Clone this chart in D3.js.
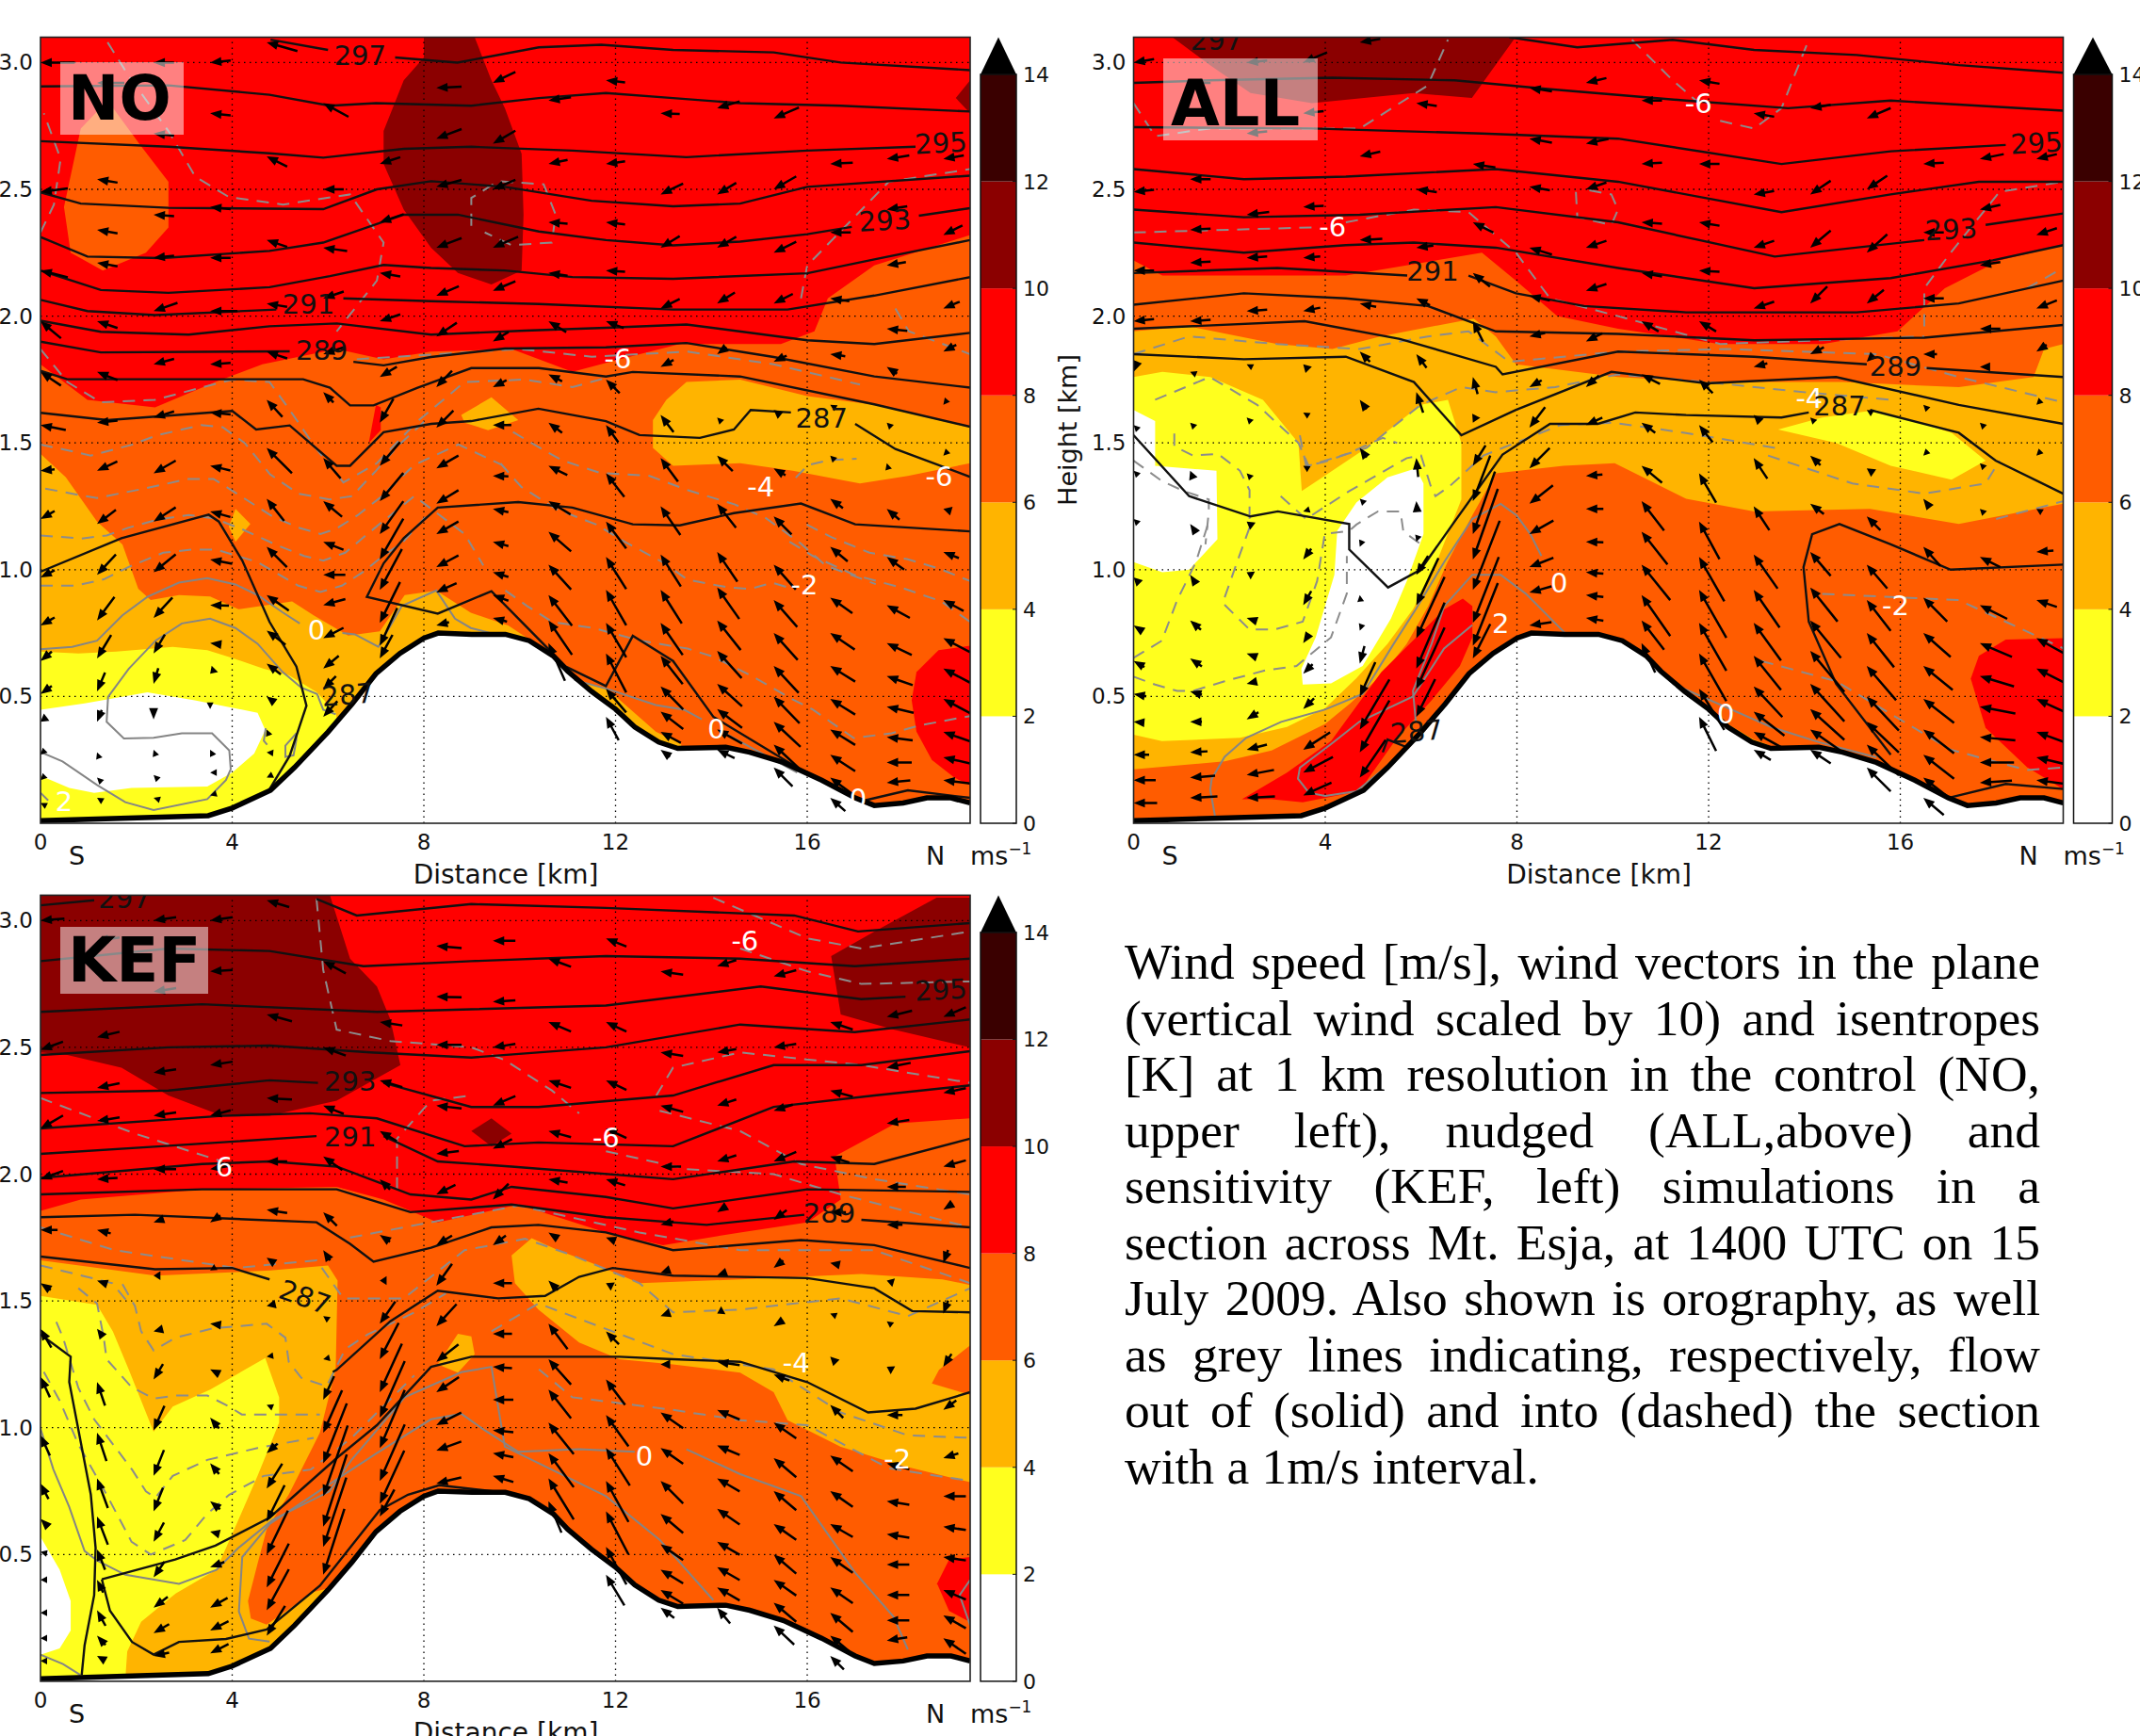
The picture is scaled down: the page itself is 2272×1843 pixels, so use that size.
<!DOCTYPE html>
<html><head><meta charset="utf-8">
<script src="https://cdn.jsdelivr.net/npm/d3@7"></script>
<style>html,body{margin:0;padding:0;background:#fff}svg{display:block}</style></head><body>
<svg id="c" width="2272" height="1843"></svg>
<script>
// ---- common values
const xTicks=[0,4,8,12,16];
const yTicks=[0.5,1,1.5,2,2.5,3];
const cbTicks=[0,2,4,6,8,10,12,14];
const levelColors=['#ffffff','#ffff1e','#ffb400','#ff5c00','#ff0000','#8b0000','#3a0000'];
const terrain=[[0,.01],[3.5,.03],[4,.06],[4.8,.13],[5.3,.22],[6,.36],[6.5,.47],[7,.59],[7.5,.67],[8,.73],[8.3,.75],[9,.745],[9.7,.745],[10.2,.72],[10.7,.66],[11,.6],[11.5,.52],[12,.45],[12.4,.38],[12.9,.32],[13.3,.295],[14.3,.3],[14.8,.28],[15.5,.24],[16.3,.17],[17,.1],[17.4,.07],[18,.08],[18.5,.1],[19,.1],[19.4,.08]];
const caption=["Wind speed [m/s], wind vectors in the plane","(vertical wind scaled by 10) and isentropes","[K] at 1 km resolution in the control (NO,","upper left), nudged (ALL,above) and","sensitivity (KEF, left) simulations in a","section across Mt. Esja, at 1400 UTC on 15","July 2009. Also shown is orography, as well","as grey lines indicating, respectively, flow","out of (solid) and into (dashed) the section","with a 1m/s interval."];
const arrowCols=[0,1.18,2.36,3.54,4.72,5.9,7.08,8.26,9.44,10.6,11.8,12.94,14.12,15.3,16.48,17.66,18.84];
const arrowLevels=[
[3.0,2.49,2.18,1.98,1.78,1.57,1.39,1.2,.97,.78,.64,.51,.4,.27,.17,.08],
[2.92,2.54,2.34,2.21,1.98,1.78,1.58,1.39,1.18,.98,.8,.65,.52,.4,.28,.18,.1],
[3.0,2.72,2.4,2.23,2.02,1.81,1.6,1.38,1.19,.99,.81,.67,.55,.41,.29,.19,.1],
[3.0,2.8,2.43,2.23,2.02,1.81,1.62,1.41,1.23,1.04,.86,.71,.59,.45,.29,.2,.11],
[3.08,2.63,2.3,2.05,1.86,1.67,1.48,1.28,1.09,.9,.76,.63,.5,.37,.28,.18],
[2.84,2.5,2.27,2.07,1.85,1.7,1.44,1.27,1.11,.98,.86,.73,.61,.53,.42],
[2.6,2.37,2.17,1.98,1.76,1.58,1.41,1.27,1.14,1.04,.92,.79,.7,.65],
[2.9,2.7,2.51,2.27,2.08,1.92,1.72,1.56,1.4,1.26,1.14,1.01,.91,.78],
[2.92,2.68,2.5,2.27,2.1,1.9,1.72,1.57,1.37,1.24,1.11,.99,.9,.81],
[2.85,2.6,2.37,2.17,1.98,1.77,1.58,1.41,1.27,1.15,1.02,.9,.8,.71],
[2.93,2.6,2.37,2.18,1.98,1.75,1.57,1.38,1.19,1.05,.92,.79,.67,.53,.42],
[2.8,2.48,2.27,2.03,1.8,1.61,1.44,1.25,1.06,.92,.79,.66,.54,.44,.36,.29],
[2.82,2.48,2.27,2.05,1.85,1.6,1.45,1.26,1.07,.93,.8,.68,.55,.45,.37,.29],
[2.78,2.5,2.25,2.05,1.82,1.63,1.4,1.21,1.02,.88,.75,.62,.5,.4,.31,.22],
[2.6,2.33,2.07,1.85,1.65,1.45,1.28,1.09,.89,.75,.62,.49,.37,.27,.18,.1],
[2.62,2.42,2.2,1.95,1.8,1.58,1.42,1.24,1.05,.86,.71,.58,.46,.34,.24,.16],
[2.62,2.32,2.03,1.86,1.65,1.45,1.24,1.07,.88,.73,.61,.49,.36,.26,.17]];

// ---- NO panel
const noFills=[
[4,[[0,0],[19.4,0],[19.4,3.1],[0,3.1]]],
[3,[[0,1.81],[.98,1.67],[2.39,1.64],[3.65,1.74],[4.63,1.81],[6.18,1.87],[7.16,1.83],[8.15,1.86],[9.83,1.87],[11.1,1.78],[12.08,1.83],[13.34,1.89],[15.45,1.89],[16.15,1.94],[16.43,2.07],[17.4,2.2],[19.4,2.32],[19.4,0],[0,0]]],
[3,[[.49,2.43],[.84,2.74],[1.4,2.85],[2.1,2.67],[2.67,2.53],[2.67,2.35],[2.2,2.25],[1.3,2.18],[.63,2.25]]],
[4,[[6.85,1.5],[7.0,1.65],[7.1,1.64],[7.1,1.55]]],
[5,[[8,3.1],[9.06,3.1],[9.41,2.93],[9.69,2.82],[10.04,2.64],[10.08,2.4],[10.04,2.18],[9.41,2.125],[8.71,2.17],[8.15,2.27],[7.58,2.42],[7.16,2.6],[7.16,2.73],[7.58,2.93],[8,3.02]]],
[5,[[19.4,2.93],[19.1,2.86],[19.4,2.8]]],
[2,[[0,1.457],[.53,1.364],[1.18,1.19],[1.71,1.1],[2.04,.925],[2.3,.88],[2.89,.9],[3.54,.894],[4.13,.844],[5.25,.875],[5.7,.82],[6.42,.74],[7.08,.757],[7.6,.9],[8.26,.918],[8.98,.83],[9.76,.78],[10.4,.7],[10.4,.2],[0,0]]],
[2,[[11.14,.565],[11.8,.534],[12.32,.448],[12.84,.361],[13.37,.312],[13.37,.2],[11.14,.3]]],
[2,[[13.48,1.74],[14.6,1.75],[16,1.685],[17.4,1.65],[19.4,1.56],[19.4,1.42],[18.1,1.37],[17.1,1.34],[15.7,1.39],[14.6,1.42],[13.2,1.41],[12.78,1.48],[12.78,1.59],[13.06,1.67]]],
[2,[[8.78,1.61],[9.41,1.68],[9.97,1.59],[9.34,1.55],[8.85,1.58]]],
[2,[[3.93,1.17],[4.07,1.24],[4.38,1.18],[4.07,1.11]]],
[4,[[19.4,.7],[18.74,.683],[18.28,.596],[18.18,.485],[18.28,.361],[18.6,.25],[19.07,.18],[19.4,.15]]],
[1,[[0,.677],[.79,.67],[1.58,.677],[2.76,.696],[3.48,.683],[4,.652],[4.66,.609],[5.18,.584],[5.77,.516],[6.16,.436],[6.3,.3],[6,0],[0,0]]],
[0,[[0,.448],[.92,.473],[2.23,.516],[3.22,.485],[4.53,.436],[4.69,.368],[4.46,.275],[4,.2],[3.48,.145],[1.9,.139],[1.12,.12],[.6,.139],[0,.188]]]];
const noIsentropes=[
[[4.8,3.09],[6.0,3.05]],
[[7.4,3.02],[8.7,3.0],[10.4,3.06],[11.7,3.07],[13.2,3.05],[15.3,3.04],[16.7,3.0],[19.4,2.97]],
[[0,2.906],[2.67,2.91],[4.78,2.873],[6.04,2.83],[7.0,2.84],[8.99,2.83],[10.4,2.86],[11.8,2.88],[13.2,2.86],[14.6,2.84],[16.7,2.83],[19.4,2.807]],
[[0,2.69],[2.67,2.668],[4.78,2.642],[5.9,2.625],[7.58,2.66],[8.99,2.668],[11.1,2.653],[13.48,2.627],[16,2.653],[18.26,2.668]],
[[0,2.488],[.84,2.444],[2.67,2.427],[5.9,2.422],[7.02,2.5],[8.15,2.532],[9.69,2.51],[11.5,2.455],[13.2,2.433],[14.6,2.444],[16,2.51],[19.4,2.554]],
[[0,2.312],[.98,2.235],[2.53,2.229],[4.78,2.257],[5.9,2.29],[7.58,2.4],[8.71,2.4],[10.4,2.334],[11.8,2.3],[13.2,2.279],[14.6,2.294],[16,2.323],[16.93,2.352]],
[[18.33,2.396],[19.4,2.426]],
[[0,2.18],[1.26,2.103],[2.67,2.092],[4.78,2.114],[6.04,2.158],[7.16,2.202],[8.15,2.19],[9.69,2.18],[11.1,2.154],[13.2,2.147],[16,2.169],[17.4,2.224],[19.4,2.3]],
[[0,2.064],[.98,2.02],[2.39,2.004],[4.92,2.026]],
[[6.32,2.07],[8.15,2.059],[10.4,2.048],[13.2,2.026],[15.59,2.026],[17.4,2.081],[19.4,2.154]],
[[0,1.982],[1.26,1.938],[3.09,1.927],[4.78,1.96],[6.18,1.971],[8.15,1.927],[10.11,1.943],[11.8,1.954],[13.48,1.967],[16,1.905],[17.4,1.89],[19.4,1.934]],
[[0,1.899],[1.26,1.857],[5.2,1.861]],
[[6.53,1.82],[7.16,1.806],[8.15,1.839],[9.69,1.872],[11.8,1.877],[13.48,1.894],[15.3,1.839],[17.4,1.762],[19.4,1.718]],
[[0,1.784],[.56,1.751],[4.0,1.751],[5.48,1.751],[6.04,1.718],[6.46,1.648],[6.95,1.648],[7.87,1.718],[8.99,1.795],[10.4,1.795],[11.8,1.762],[12.36,1.78],[14.6,1.762],[17.4,1.652],[19.4,1.564]],
[[0,1.619],[1.4,1.59],[4,1.626],[4.5,1.553],[5.2,1.569],[6.18,1.41],[6.46,1.41],[7.16,1.542],[8.15,1.575],[8.99,1.586],[10.39,1.635],[11.8,1.586],[12.5,1.531],[13.76,1.52],[14.47,1.553],[14.82,1.63],[15.66,1.62]],
[[17,1.575],[17.84,1.476],[19.4,1.366]],
[[0,.992],[1.69,1.124],[3.51,1.217],[3.72,1.19],[4.21,1.036],[4.78,.794],[5.34,.618],[5.55,.464],[5.2,.266],[4.78,.134]],
[[19.4,1.151],[17,1.179],[15.87,1.261],[14.47,1.223],[13.34,1.175],[12.36,1.179],[11.1,1.245],[9.97,1.267],[8.29,1.245],[7.58,1.124],[7.16,1.025],[6.81,.893],[8.29,.827],[9.41,.915],[10.96,.618],[11.8,.541],[12.36,.739],[13.2,.64],[14.04,.42],[15.87,.211]],
[[17.2,.09],[18.1,.13],[19.4,.1]]];
const noOutflow=[
[[0,.686],[.66,.696],[1.18,.72],[1.71,.82],[2.23,.893],[2.89,.949],[3.48,.967],[4.07,.942],[4.53,.9],[5.05,.832],[5.41,.788]],
[[6.3,.75],[6.56,.745],[7.05,.696],[7.54,.857],[8.26,.918],[8.65,.807],[8.98,.77],[9.4,.75]],
[[6.16,.43],[5.9,.448],[5.77,.51],[5.44,.535],[5.05,.597],[4.53,.708],[4.07,.77],[3.54,.807],[2.95,.788],[2.4,.72],[1.84,.609],[1.41,.498],[1.38,.4],[1.74,.334],[2.36,.337],[2.95,.355],[3.58,.355],[3.94,.287],[3.97,.213],[3.87,.17],[3.48,.095],[2.36,.052],[1.77,.083],[1.18,.151],[.46,.244],[0,.281]],
[[5.34,.355],[5.11,.306],[5.11,.262],[5.28,.268],[5.34,.33],[5.34,.355]],
[[4.7,.375],[4.66,.325],[4.73,.31]],
[[11.14,.565],[11.86,.528],[12.84,.466],[13.43,.448],[13.8,.41]],
[[14.28,.355],[14.81,.3],[15.79,.2]],
[[0,.12],[.16,.09]]];
const noInflow=[
[[0,.937],[.73,.937],[1.32,.962],[1.84,1.011],[2.56,1.067],[3.15,1.079],[3.67,1.079],[4.53,1.03],[5.38,.937],[5.84,.912],[6.29,.937],[6.75,.993],[7.14,1.054],[7.54,1.104],[8.13,1.228]],
[[0,1.135],[.86,1.123],[1.38,1.135],[1.84,1.166],[2.43,1.197],[3.09,1.216],[3.61,1.203],[4.2,1.16],[4.92,1.098],[5.5,1.054],[5.9,1.036],[6.36,1.067],[6.75,1.129],[7.14,1.19],[7.8,1.29],[8.85,1.141],[9.24,1.017]],
[[.1,1.32],[.79,1.295],[1.18,1.283],[2.17,1.32],[3.09,1.358],[3.61,1.358],[4.13,1.296],[4.85,1.209],[5.38,1.166],[5.84,1.141],[6.16,1.16],[6.62,1.215],[7.08,1.283],[7.8,1.413],[8.72,1.494],[9.63,1.413]],
[[0,1.493],[.47,1.475],[1.05,1.45],[1.91,1.493],[2.43,1.53],[3.35,1.57],[3.8,1.562],[4.26,1.5],[4.79,1.376],[5.38,1.3],[6.03,1.277],[6.5,1.29],[7.0,1.39],[7.47,1.49],[8.1,1.6]],
[[9.86,1.543],[10.36,1.487],[10.88,1.432],[11.67,1.382],[12.71,1.37],[13.5,1.314],[14.48,1.258],[15.14,1.203],[15.86,1.104],[16.38,1.017],[17.43,.943]],
[[9.6,1.419],[10.03,1.327],[10.75,1.24],[11.6,1.178],[12.19,1.11],[12.98,1.03],[13.5,.961],[14.35,.93],[14.81,.924],[15.27,.949],[15.7,.924]],
[[9.7,.918],[10.16,.856],[10.68,.794],[11.53,.77],[12.52,.72],[13.5,.689],[14.02,.658],[14.81,.584],[15.73,.485],[16.12,.448],[16.97,.336],[17.76,.355],[18.35,.386],[19.4,.423]],
[[15.99,1.178],[16.51,1.128],[17.3,1.067],[18.08,1.042],[18.74,1.005],[19.4,.955]],
[[15.63,1.11],[16.12,1.054],[16.97,.98],[17.95,.93],[18.8,.875],[19.4,.794]],
[[15.76,1.363],[16.02,1.413],[16.45,1.432],[17.03,1.438]],
[[1.4,3.08],[1.83,2.95],[2.67,2.73],[3.23,2.55],[3.93,2.47],[5.06,2.44],[6.46,2.48],[7.16,2.29],[7.02,2.14],[6.18,1.94]],
[[8.99,2.356],[8.99,2.466],[9.55,2.532],[10.5,2.52],[10.75,2.4],[10.67,2.29],[9.83,2.28],[9.27,2.33]],
[[0,2.33],[.28,2.44],[.42,2.62],[.07,2.8]],
[[15.87,2.07],[16,2.2],[16.57,2.31],[17.7,2.53],[19.4,2.58]],
[[17.84,2.03],[18.12,1.94],[19.4,1.85]],
[[0,1.87],[.56,1.74],[1.26,1.66],[2.39,1.67],[4.0,1.75],[4.78,1.74],[5.2,1.63],[5.76,1.476],[6.32,1.344],[7.02,1.42],[7.87,1.586],[8.85,1.74],[10.11,1.75],[11.1,1.72],[11.87,1.76]],
[[6.6,1.83],[8.3,1.85],[10,1.87],[11.5,1.84],[13.5,1.86],[15.3,1.81],[17.1,1.73]]];
const noWhiteLabels=[["-6",12.05,1.835],["-4",15.03,1.33],["-6",18.75,1.37],["-2",15.94,.945],["0",5.76,.765],["0",14.1,.376],["0",17.06,.1],["2",.49,.09]];
const noBlackLabels=[["297",6.67,3.03,0],["295",18.8,2.686,-3],["293",17.63,2.38,-3],["291",5.59,2.05,0],["289",5.87,1.87,0],["287",16.3,1.6,0],["287",6.43,.51,-5]];
const noU=[
[-5,-4,-4,-3,-3,-3.7,-3,-3,-3,-3,-2.4,-2.4,-1.3,-.3,-.2,-.2],
[-4,-3,-3,-3,-3,-3,-3,-4.3,-4,-4,-3.7,-3,-1.7,-1,-.3,-.5,-.5],
[-3,-3,-3,-3,-3.5,-3,-3,-4.7,-4.7,-4.7,-4,-2.4,-1,0,-.3,-.5,-1],
[-3,-3,-3,-3,-4,-3,-3,-4.3,-4.3,-4.7,-4,-2.4,-1,0,-.3,-.8,-1],
[-4.5,-3,-3,-3,-3,-2.3,-3.7,-3.7,-4.3,-4.7,-4,-3,-1.7,-.2,-1,-1],
[-3.7,-3,-3.5,-3,-3,-1.5,-3.7,-4,-4.3,-4.7,-4.7,-4.3,-3.3,-2.7,-3],
[-3,-3.5,-3,-3,-2.5,-2,-4.3,-5,-5,-5,-4.7,-4.3,-3.7,-2.7],
[-3.7,-3.7,-3.7,-3.7,-3.3,-3,-2.3,-2.5,-4.7,-4.7,-4.7,-4.7,-4.3,-2.7],
[-3.3,-3.3,-3.3,-3.7,-3.3,-2.3,-2,-2.7,-3.3,-3.3,-3.3,-3.3,-3.3,-3],
[-3.3,-2.8,-2.8,-2.8,-2.6,-2,-2,-4,-4.7,-4.8,-4.8,-5,-5,-3.5],
[-2.8,-2.8,-2.8,-2.8,-2.6,-2,-1.8,-3.9,-4.3,-4.3,-4.3,-4.3,-4.3,-4.3,-2.7],
[-2.8,-3.3,-2.8,-2.8,-1.9,-1.9,-3.7,-4.2,-4.3,-4.5,-4.7,-4.7,-4.8,-4.8,-4.3,-2],
[-3.3,-2.8,-2.8,-2.6,-1.4,-.5,-3.3,-4,-4.3,-4.7,-5,-5.2,-5.3,-5.3,-5.3,-3.7],
[-3.7,-3.3,-3.3,-2.8,-1.9,-1,-2.5,-3.8,-4.7,-5,-5.1,-5.3,-5.5,-5.7,-5.7,-4],
[-3.3,-3,-2.8,-2.2,-.5,-.8,-2.7,-3.7,-4.7,-5.2,-5.3,-5.3,-5.3,-5.3,-5,-3.2],
[-3.3,-3,-2.8,-3,-1.5,-.5,-.3,-2.7,-3.7,-4.9,-5.3,-5.5,-5.7,-5.5,-5.3,-5],
[-3,-2.8,-2.4,-1.9,-.4,-.3,-1.7,-3.3,-4.3,-5.7,-5.7,-5.7,-5.7,-5.7,-5.7]];
const noW=[
[0,-.5,1,2.5,2,.7,-.3,-1.7,-1.5,-1.7,-2,-1.7,-1,-.3,-.2,.1],
[0,.5,.5,.5,1,1.2,-.3,-2,-3,-4.3,-5,-5,-4,-2.5,.8,.5,.3],
[0,.3,.2,-.3,-1.2,-.8,-.9,-2.7,-3,-3.8,-4.3,-4,-3.3,-2.4,.8,.5,.3],
[-.3,.3,.3,0,0,-.2,.3,1,1.2,.9,.1,.3,-1,-1,.6,0,-.3],
[1.3,1.5,1,.5,1,2.5,3.7,4.7,4.3,3.3,3,2.3,1.3,.5,.1,-.5],
[2,0,.5,-1,-1,1.5,4.3,3.3,1.7,0,-1.3,-2.2,-2.7,-2.7,-3.3],
[-1,-1.2,.5,-1,-1.5,-3.5,-5,-6,-7,-8.7,-8.7,-8.7,-8,-5],
[-.2,-1.4,-1,-1.4,-1.4,-2,-2.4,-2.5,-2.7,-2.9,-2.7,-2.5,-2,-.7],
[-1.6,-1.9,-1.4,-1.6,-1.4,-1.4,-1,0,.1,.7,.9,1,1.2,.8],
[-.5,-.6,.2,.4,1.6,1,1.5,2,2.8,4.2,5.3,6.5,7.3,8],
[.3,-.4,.3,.2,1,2,2.5,5,5.7,6.8,7.5,7.3,8.3,5,5],
[.1,-1.6,-1.7,-1.4,-1,2.5,5,6.1,6.8,7.1,6.8,6,4.9,3.7,2.3,1.5],
[-1,-1.7,-1.6,-1.6,-1,.5,3.3,5.1,6.3,6.7,6.3,5.8,4.8,4,3,1.8],
[-1.6,-1.9,-1.6,-1.4,-.9,.8,1.5,3.8,5.3,5.7,5.7,5.7,5.7,5.3,5.3,4],
[-.2,0,.4,.3,.3,.8,2,3.1,3.3,3.5,3.3,3.3,3.3,3.5,3.7,2.8],
[-.5,-.5,-.5,.3,1,.5,1,2.3,2.7,2.7,2.5,1.9,1.3,.7,0,-.5],
[-.5,-1.4,-1,-1,-.5,-.3,.5,1.3,2.3,3,3,3,2,1.3,.7]];

// ---- ALL panel
const allFills=[
[4,[[0,0],[19.4,0],[19.4,3.1],[0,3.1]]],
[5,[[.81,3.1],[7.97,3.1],[7.06,2.86],[5.85,2.88],[3.72,2.84],[2.44,2.88],[1.59,2.99]]],
[3,[[0,2.22],[.6,2.16],[4.43,2.16],[7.27,2.25],[7.98,2.14],[8.84,2.0],[10.11,1.95],[12.24,1.89],[14.38,1.89],[15.94,1.94],[16.93,2.11],[18.07,2.22],[19.4,2.28],[19.4,0],[0,0]]],
[2,[[0,1.94],[1.16,1.96],[3,1.89],[4.15,1.87],[5.14,1.92],[7.1,1.99],[7.56,1.92],[7.98,1.81],[10.11,1.76],[11.96,1.74],[14.8,1.74],[17.22,1.72],[18.78,1.76],[19,1.87],[19.4,1.89],[19.4,0],[0,0]]],
[3,[[7.56,1.38],[8.97,1.41],[10.04,1.42],[11.53,1.28],[12.95,1.23],[15.37,1.24],[17.22,1.18],[19.4,1.26],[19.4,0],[0,0],[0,.213],[1.9,.244],[2.88,.287],[4,.392],[4.52,.473],[5.18,.584],[5.7,.708],[6.15,.856],[6.55,1.03],[7.07,1.215]]],
[1,[[13.45,1.553],[14.37,1.6],[15.5,1.63],[17.07,1.54],[17.78,1.43],[17.07,1.355],[15.8,1.41],[14.66,1.5]]],
[1,[[0,1.76],[.6,1.78],[1.6,1.76],[2.7,1.67],[3.44,1.5],[3.51,1.31],[4.86,1.48],[5.99,1.65],[6.56,1.67],[6.84,1.5],[6.84,1.277],[6.48,1.104],[6.22,.98],[5.83,.844],[5.3,.708],[4.65,.572],[4,.454],[3.2,.38],[2.22,.337],[.59,.324],[0,.349]]],
[0,[[0,1.63],[.45,1.586],[.45,1.41],[1.73,1.39],[1.75,1.12],[1.16,1.0],[.6,.99],[0,1.03]]],
[0,[[5.89,1.4],[6.05,1.34],[6.05,1.14],[5.7,.955],[5.37,.807],[4.78,.62],[4.12,.552],[3.53,.547],[3.5,.609],[3.8,.733],[4.19,.98],[4.25,1.153],[4.65,1.265],[5.3,1.364]]],
[4,[[2.26,.095],[3.2,.2],[4.12,.324],[5.17,.596],[6.48,.843],[6.87,.886],[7.07,.856],[7.07,.733],[6.81,.62],[6.22,.485],[5.5,.337],[4.71,.126],[3.53,.083],[2.88,.095]]],
[4,[[19.4,.73],[18.2,.724],[17.64,.66],[17.47,.57],[17.78,.376],[18.64,.222],[19.4,.134]]],
[2,[[11.1,.55],[11.96,.44],[12.95,.33],[13.24,.31],[13.24,.2],[11.1,.3]]]];
const allIsentropes=[
[[7.84,3.1],[9.26,3.06],[11.25,3.09],[12.95,3.05],[15.09,3.03],[17.22,2.99],[19.4,2.96]],
[[0,2.92],[1.59,2.93],[4.15,2.94],[6.7,2.93],[8.7,2.895],[11.53,2.85],[13.66,2.82],[15.8,2.85],[19.4,2.81]],
[[0,2.745],[3.72,2.74],[7.27,2.72],[10.11,2.7],[13.52,2.6],[15.8,2.65],[18.2,2.675]],
[[0,2.58],[2.3,2.54],[4.43,2.55],[7.56,2.58],[10.11,2.53],[13.52,2.41],[15.8,2.48],[17.64,2.53],[19.4,2.53]],
[[0,2.42],[2.3,2.39],[4.72,2.4],[7.56,2.43],[10.11,2.37],[13.38,2.235],[16.5,2.3]],
[[17.78,2.36],[19.4,2.405]],
[[0,2.29],[2.3,2.25],[4.43,2.28],[5.85,2.29],[7.56,2.27],[10.11,2.19],[12.95,2.11],[15.8,2.15],[17.93,2.22],[19.4,2.28]],
[[0,2.17],[3,2.19],[5.71,2.16]],
[[6.99,2.16],[7.98,2.09],[9.4,2.04],[11.53,2.015],[15.09,2.015],[17.22,2.05],[19.4,2.14]],
[[0,2.045],[2.3,2.09],[4.43,2.07],[6.14,2.04],[7.56,1.94],[10.11,1.93],[12.95,1.905],[16.5,1.915],[19.4,1.965]],
[[0,1.95],[3.57,1.98],[5.56,1.91],[7.56,1.8],[7.7,1.77],[10.11,1.86],[12.95,1.84],[15.3,1.81]],
[[16.55,1.795],[19.4,1.76]],
[[0,1.85],[2.3,1.83],[4.43,1.84],[5.85,1.74],[6.84,1.53],[7.98,1.63],[9.97,1.78],[11.96,1.735],[14.66,1.76],[17.22,1.65],[19.4,1.575]],
[[19.4,1.3],[17.99,1.43],[17.22,1.54],[15.37,1.63]],
[[14.09,1.62],[13.52,1.6],[11.53,1.61],[10.47,1.62],[9.69,1.575],[8.69,1.575],[7.7,1.454],[6.7,1.19],[5.99,1],[5.31,.93],[4.5,1.08],[4.5,1.18],[3.01,1.23],[2.44,1.21],[1.16,1.29],[0,1.53]],
[[19.4,1.02],[17.05,1],[15.8,1.1],[14.73,1.18],[14.16,1.14],[13.98,1.01],[14.09,.795],[14.66,.55],[15.8,.27]],
[[5.7,.3],[5.3,.33],[5.2,.28]],
[[17,.1],[18.2,.155],[19.4,.135]]];
const allOutflow=[
[[8.51,1.054],[8.28,1.14],[7.99,1.215],[7.66,1.26],[7.07,1.2],[6.48,1.03],[5.89,.844],[5.43,.708],[4.78,.51],[3.99,.448],[3.08,.4],[2.35,.337],[1.9,.262],[1.63,.175],[1.6,.133],[1.7,.027]],
[[9,.751],[8.18,.906],[7.66,.98],[7.07,.98],[6.48,.856],[6.22,.708],[5.83,.522],[5.89,.4]],
[[7.07,.782],[6.48,.689],[5.83,.5],[4.71,.4],[4.12,.312],[3.47,.219],[3.43,.176],[3.66,.12],[4,.108],[4.65,.126],[5.37,.238]],
[[11.25,.55],[13.3,.38],[14.3,.32],[15.5,.26]]];
const allInflow=[
[[0,2.33],[3.72,2.35]],
[[4.43,2.37],[5.85,2.42],[6.99,2.41],[7.98,2.25],[8.69,2.07],[10.11,2],[12.24,1.89],[16.5,1.92]],
[[0,2.84],[.45,2.71],[1.59,2.74],[4.72,2.74],[6.14,2.91],[6.56,3.09]],
[[10.4,3.09],[11.25,2.93],[11.8,2.84]],
[[12.24,2.77],[12.95,2.74],[13.52,2.82],[14.09,3.09]],
[[9.23,2.49],[9.26,2.39],[9.97,2.36],[10.11,2.42],[9.97,2.48],[9.4,2.5]],
[[16.5,1.96],[16.5,2.11],[17.05,2.25],[18.07,2.49],[19.4,2.53]],
[[18.64,2.11],[19.4,2.19]],
[[0,1.85],[1.16,1.92],[3,1.89],[4.72,1.87],[6.14,1.92],[6.99,1.94],[7.84,1.82],[10.11,1.86],[12.38,1.87],[15.5,1.85],[17.22,1.76],[19.4,1.66]],
[[.45,1.67],[1.59,1.76],[2.58,1.65],[3.44,1.5],[3.65,1.41],[4.86,1.48],[5.99,1.65],[6.84,1.72],[7.56,1.7],[8.8,1.72],[10.11,1.77],[11.96,1.74],[14,1.7],[15.8,1.67]],
[[0,1.43],[.59,1.35],[1.05,1.31],[1.57,1.277],[1.57,1.23],[1.5,1.1]],
[[.85,1.537],[.85,1.487],[1.24,1.45],[1.76,1.457],[2.22,1.39],[2.42,1.314],[2.42,1.166],[2.16,1.03],[1.86,.869],[2.42,.764],[2.94,.764],[3.53,.795],[3.83,.955],[3.99,1.141],[4.5,1.153],[4.65,1.178],[5.1,1.23],[5.57,1.23],[5.63,1.15],[6,1.1]],
[[0,.652],[.59,.72],[.91,.88],[1.3,1.03],[1.57,1.19]],
[[0,.578],[.45,.547],[.91,.522],[1.24,.522],[1.9,.56],[2.75,.603],[3.4,.62],[4.12,.733],[4.45,.906],[4.45,1.054]],
[[3.47,1.53],[3.6,1.41],[3.99,1.425],[4.5,1.46],[5.2,1.52],[5.5,1.5]],
[[3.07,1.29],[3.6,1.2],[4.5,1.31],[5.7,1.44],[6,1.45],[6.2,1.33],[6.3,1.29],[6.6,1.33],[7.3,1.45],[8.9,1.57],[10,1.58],[11.5,1.54],[13.4,1.48]],
[[13.24,1.45],[15,1.34],[16.5,1.3],[17.78,1.34],[18.07,1.43]],
[[14.37,.905],[17.22,.88],[19.4,.69]],
[[13.1,.64],[14.66,.56],[17.05,.29],[18.64,.21],[19.4,.22]],
[[18,1.2],[19.4,1.27]]];
const allWhiteLabels=[["-6",11.79,2.84],["-6",4.15,2.356],["-4",14.1,1.68],["-2",15.9,.86],["0",8.88,.95],["2",7.66,.79],["0",12.36,.436]];
const allBlackLabels=[["297",1.73,3.09,0],["295",18.85,2.686,-3],["293",17.07,2.345,-3],["291",6.24,2.18,0],["289",15.9,1.806,0],["287",14.73,1.65,0],["287",5.92,.365,-5]];
const allU=[
[-3,-3,-3,-3,-.6,-.2,-.2,-.3,-1.3,-2,-2.3,-2.7,-2.3,-3.3,-4.7,-5],
[-3,-3,-3,-3,-3,-.5,-.2,-.7,-1.3,-1.3,-2.3,-2.5,-2.5,-2.5,-3.7,-5.3,-5.8],
[-3,-3,-3.3,-3,-3,-.4,-.3,-.3,-1.3,-1.3,-2.2,-2.2,-2.2,-2.5,-4.3,-5.8,-6],
[-3.5,-3,-3,-2.5,-2.5,-.8,-.5,-1,-1,-1.7,-1.7,-1.3,-2,-2.3,-5.7,-6.3,-6],
[-3,-3,-3.3,-2.4,-1.5,-1,-1,-.2,-.2,-.1,-.3,-1,-3.3,-6.3,-6.3,-5.5],
[-3,-3,-2.5,-2,-1.5,-1,-.4,-.2,-.1,-2.5,-4.7,-6,-6,-6,-4],
[-3.3,-3,-2.5,-1.5,-.7,-.5,-2.7,-3.7,-4.7,-5.3,-5.7,-5.5,-5.3,-3.7],
[-3.3,-3.3,-3,-3.3,-3,-2.3,-1.8,-2.3,-4.3,-5,-5.1,-5.1,-4.7,-4.7],
[-3,-3.3,-3,-3,-3,-2.4,-1.9,-2.4,-3.5,-3.7,-3.7,-3.7,-3.7,-3.7],
[-3,-3,-3,-3,-2.5,-2.7,-2,-3,-3.3,-3.8,-4.2,-4.2,-3.3,-2],
[-3,-3,-3,-3,-2.5,-2,-2,-2.5,-3,-3.7,-4,-4,-4,-3.7,-2.5],
[-3,-3,-3,-3,-2,-1,-2,-2.3,-3.5,-3.8,-4,-4,-4.2,-4.5,-4.5,-2.5],
[-3,-3,-3,-2.5,-2,-.5,-1.5,-2,-3,-4,-4.5,-5,-5,-5,-5,-3],
[-3.5,-3,-3,-2.5,-1,-.5,-1,-2,-3,-3.5,-4,-4.3,-4.7,-4.7,-4.7,-3.5],
[-3,-3,-3,-2,-.2,-.2,-1,-2.5,-3.5,-4,-4.3,-4.5,-4.5,-4.5,-4.5,-3],
[-3.5,-3,-3,-3,-1.5,-.3,-.2,-.5,-3,-4,-4.7,-5,-5.2,-5.2,-5,-4.7],
[-3,-3,-3,-1.5,-.3,-.2,-.5,-2.5,-3,-4,-5,-5.5,-5.5,-5.5,-5.3]];
const allW=[
[-.5,-.3,0,-.3,-1.5,.2,.2,.3,1.3,1.3,1.3,.5,.2,0,0,0],
[0,0,-.2,-.2,-.2,.2,.2,1.7,1.9,2,2,1.7,.7,0,-.2,-.4,-.3],
[-.3,-.3,-.4,-.2,-.2,.2,.3,.3,1,.7,.7,.8,-.5,-1.5,-1.1,-1.1,-.3],
[-1.5,-.3,-.2,-.2,-.5,.8,.3,.6,-.3,-2.3,-3,-2,-2,-2.3,-3.7,-3.3,-2.7],
[-.5,-.7,-.2,.5,1.5,1.4,1.4,.2,-.5,.7,-.8,-3.7,-7.3,-10.6,-11,-8],
[.4,.4,-.3,1,2,3,4,2.3,-.3,-4,-10,-13,-14,-13,-8],
[.5,1.5,2,3,2.5,-1,-4.3,-9.7,-13.3,-15,-14.7,-14,-13.3,-7.3],
[.5,.6,.5,1,.7,-.5,-1,-3,-4.3,-3.9,-2.9,-2,-1.3,-.7],
[-.7,-.7,-1,-1,-1,-1.2,-1.7,-1.1,-.3,0,.1,.3,.4,.6],
[0,-.2,.2,.5,1.5,1.4,1.5,2.5,4.3,4.8,5.2,6,4.3,4.3],
[.5,0,.5,.2,1.5,2,2.5,4.3,5.5,6.5,7,7,7,6,5],
[.5,-.5,-1,-1,-.5,1,3,3.5,5,5.5,5.5,5,4.5,3.5,2.5,1.5],
[-.5,-2,-2.5,-2.5,-1,.5,1.4,1.5,3.5,5,5.5,6,5.5,4.5,3.5,2],
[-1.5,-2,-2.7,-2,-1,.3,.7,2,3.5,4.5,5,5,5,4.5,4.5,3.5],
[-.2,0,0,0,.2,-.2,1.3,2.8,3.5,3.5,3.5,3.5,3.5,3.5,3.5,2.5],
[-.7,-.7,-.5,0,0,.3,.2,.5,1.5,2,2,1.5,1,.5,0,-.3],
[-.7,-1,-1.2,-1,-.3,-.2,.3,-.2,1,2.2,2.5,2.5,2,1.3,.7]];

// ---- KEF panel
const kefFills=[
[4,[[0,0],[19.4,0],[19.4,3.1],[0,3.1]]],
[5,[[0,3.1],[6.04,3.1],[6.46,2.85],[7.02,2.74],[7.3,2.61],[7.51,2.43],[6.18,2.29],[4.78,2.23],[3.79,2.23],[2.67,2.31],[1.69,2.42],[.56,2.47],[0,2.48]]],
[5,[[19.4,3.09],[18.7,3.09],[17.4,2.957],[16.5,2.86],[16.7,2.63],[17.8,2.57],[19.4,2.5]]],
[5,[[8.99,2.17],[9.41,2.22],[9.83,2.16],[9.41,2.11]]],
[3,[[0,1.855],[.84,1.9],[3.37,1.94],[6.18,1.95],[7.16,1.9],[8.29,1.81],[9.97,1.88],[11.8,1.77],[12.99,1.72],[14.6,1.77],[16,1.81],[16.7,1.9],[16.57,2.07],[17.84,2.2],[19.4,2.22],[19.4,0],[0,0]]],
[2,[[0,1.66],[2.4,1.6],[4.8,1.62],[6,1.64],[6.2,1.58],[6.16,1.23],[5.83,.98],[5.18,.736],[4.72,.6],[4.53,.464],[4.33,.316],[4.39,.248],[4.72,.223],[5.7,.353],[5.97,.365],[6,0],[0,0]]],
[1,[[0,1.52],[1.18,1.485],[1.51,1.38],[1.84,1.23],[2.36,.984],[2.76,1.083],[3.54,1.15],[4.69,1.275],[4.98,1.12],[4.98,1.02],[4.53,.81],[4.13,.637],[3.67,.44],[2.82,.346],[2.1,.235],[1.81,.118],[1.78,.037],[1.78,0],[0,0]]],
[0,[[0,.57],[.4,.44],[.63,.316],[.63,.2],[.4,.13],[0,.105]]],
[2,[[10.25,1.747],[9.83,1.68],[9.9,1.57],[10.39,1.466],[11.24,1.336],[12.08,1.27],[13.2,1.25],[14.6,1.217],[15.3,1.14],[15.59,1.03],[16.7,.925],[17.98,.85],[19.4,.785],[19.4,1.13],[18.6,1.174],[18.75,1.228],[19.4,1.325],[19.4,1.563],[18.82,1.585],[17.13,1.606],[14.6,1.585],[12.5,1.57],[11.5,1.65],[10.8,1.7]]],
[2,[[8.29,1.25],[8.71,1.37],[8.99,1.36],[9.06,1.29],[8.71,1.217]]],
[4,[[19.4,.49],[18.96,.48],[18.71,.385],[18.96,.277],[19.4,.234]]]];
const kefIsentropes=[
[[0,3.06],[1.12,3.08]],
[[5.76,3.085],[6.6,3.02],[8.99,3.065],[11.8,3.05],[15.73,3.02],[17.06,2.957],[19.4,2.99]],
[[0,2.84],[2.67,2.89],[4.78,2.88],[6.74,2.82],[8.99,2.84],[11.8,2.86],[14.6,2.85],[16.99,2.82],[19.4,2.85]],
[[0,2.64],[3.37,2.67],[7.02,2.64],[8.99,2.65],[11.8,2.665],[15.03,2.74],[17.13,2.69],[18.05,2.7]],
[[0,2.47],[2.67,2.5],[4.78,2.507],[6.88,2.48],[8.99,2.46],[11.8,2.5],[14.6,2.59],[16.99,2.56],[19.4,2.61]],
[[0,2.32],[2.67,2.33],[4.78,2.37],[5.79,2.36]],
[[7.16,2.36],[8.99,2.265],[10.39,2.265],[13.2,2.31],[15.3,2.43],[17.13,2.43],[19.4,2.485]],
[[0,2.18],[3.79,2.23],[5.62,2.24],[7.02,2.22],[8.85,2.11],[10.39,2.125],[13.2,2.11],[15.3,2.265],[17.4,2.31],[19.4,2.35]],
[[0,2.08],[2.53,2.11],[5.76,2.15]],
[[7.16,2.15],[8.29,2.05],[9.83,2.03],[13.2,1.98],[15.73,2.05],[17.4,2.04],[19.4,2.14]],
[[0,1.985],[3.37,2.04],[4.78,2.05],[6.18,2.03],[7.72,1.92],[8.99,1.9],[9.83,1.95],[11.8,1.91],[13.2,1.865],[16,1.94],[19.4,1.93]],
[[0,1.92],[3.37,1.94],[6.18,1.94],[7.72,1.85],[9.83,1.88],[11.8,1.83],[13.9,1.8],[15.94,1.84]],
[[17.13,1.82],[19.4,1.79]],
[[0,1.83],[1.97,1.84],[5.76,1.81],[6.46,1.725],[6.95,1.655],[8.15,1.71],[9.41,1.79],[10.39,1.8],[11.8,1.77],[13.2,1.7],[15.87,1.74],[17.4,1.72],[19.4,1.63]],
[[0,1.675],[2.39,1.625],[4,1.63],[4.78,1.585]],
[[19.4,1.455],[18.19,1.46],[17.4,1.55],[16,1.59],[13.2,1.6],[11.94,1.63],[11.24,1.595],[10.53,1.52],[9.55,1.51],[8.29,1.54],[7.3,1.42],[6.18,1.228],[6.1,1.22]],
[[19.4,1.14],[18.26,1.075],[17.27,1.06],[16,1.18],[14.6,1.26],[13.2,1.27],[12.08,1.28],[8.99,1.28],[8.15,1.24],[7.02,1.01],[6.18,.88],[4.78,.645],[3.65,.535],[2.81,.48],[1.28,.402]],
[[1.28,.402],[1.45,.278],[1.91,.155],[2.36,.105],[2.89,.155],[3.87,.167],[4.72,.204],[5.83,.377],[7.08,.675],[7.67,.736],[8.32,.773],[9.44,.749]],
[[0,1.368],[.63,1.28],[.6,1.18],[1.05,.736],[1.15,.526],[1.12,.34],[.92,.142],[.86,.025]]];
const kefOutflow=[
[[18.1,.125],[17.8,.255],[17,.428],[15.87,.73],[14.6,.817],[13.48,.915]],
[[12.4,.905],[11.24,.915],[9.97,.905],[9.27,.99],[8.78,1.055],[8.15,1.033],[7.02,.9],[6.18,.796],[4.78,.62],[4.21,.49],[4.14,.275],[4.35,.168],[4.78,.157]],
[[14.04,.32],[12.92,.558],[11.8,.73],[9.69,.925],[9.41,1.24],[8.78,1.219],[7.6,1.12],[6.49,.873],[6.03,.749],[4.85,.637],[4.13,.526],[3.67,.439],[2.89,.384],[1.77,.42],[1.18,.476],[.92,.514],[.6,.687],[.27,.835],[0,.996]],
[[0,.105],[.47,.068],[.83,.025]],
[[19.4,.4],[19.18,.34],[19.4,.22]]];
const kefInflow=[
[[5.76,3.085],[5.9,2.805],[6.18,2.57],[7.3,2.525],[8.99,2.5],[9.69,2.45],[10.67,2.33],[11.24,2.24]],
[[14.04,3.09],[16,2.93],[17.13,2.89],[19.4,2.957]],
[[14.6,2.89],[16,2.8],[17.13,2.75],[19.4,2.76]],
[[12.85,2.31],[13.2,2.42],[14.6,2.48],[17.13,2.43],[19.4,2.36]],
[[0,2.3],[1.97,2.16],[3.79,2.05]],
[[7.44,1.94],[7.44,2.14],[8.15,2.29],[8.99,2.31]],
[[12.92,2.25],[14.6,2.17],[15.87,2.04],[17.4,1.98],[19.4,1.92]],
[[11.8,2.09],[13.48,2.02],[15.3,2],[16.7,1.92],[19.4,1.79]],
[[.79,1.55],[1.18,1.49],[1.32,1.355],[1.38,1.27],[1.9,1.16],[2.36,1.115],[2.82,1.127],[3.48,1.127],[3.94,1.083],[4.2,1.052],[5.18,1.052],[5.83,1.052]],
[[1.71,1.566],[1.97,1.48],[2.1,1.38],[2.36,1.305],[2.82,1.355],[3.6,1.392],[4.72,1.41],[5.11,1.355],[5.18,1.26],[5.44,1.197],[5.97,1.163],[6.36,1.31],[6.82,1.367],[7.8,1.454],[8.46,1.53]],
[[.33,1.417],[.47,1.355],[.79,1.157],[1.12,1.033],[1.91,.835],[2.2,.749],[2.4,.724],[2.76,.81],[3.48,.873],[4.53,.92],[5.7,.96]],
[[.07,1.22],[.4,1.107],[.79,.934],[1.38,.736],[1.9,.55],[2.3,.5],[3.02,.557],[3.48,.66],[3.94,.736],[4.66,.81],[5.64,.835],[6.49,.96],[7.8,1.206]],
[[0,1.79],[1.55,1.7],[4.07,1.63],[5.76,1.66],[6.32,1.51],[7.58,1.51],[8.85,1.7],[10.11,1.745],[11.1,1.68],[12.5,1.57],[13.2,1.455],[14.6,1.466],[16.7,1.51],[18.1,1.44],[19.4,1.55]],
[[6.46,1.75],[7.58,1.79],[9.97,1.876],[12.5,1.77],[14.6,1.7],[17.4,1.7],[19.4,1.57]],
[[9.41,1.38],[10.39,1.49],[13.2,1.29],[15.3,1.23],[16.7,1.06],[18.1,.97],[19.4,.96]],
[[13.2,1.07],[14.6,1.03],[16,1.01],[17.7,.84],[19.4,.79]],
[[10.4,1.23],[11.1,1.12],[13.2,1.07]],
[[0,1.64],[1.5,1.57],[1.8,1.5]]];
const kefWhiteLabels=[["-6",14.7,2.925],["-6",11.8,2.146],["6",3.83,2.03],["-4",15.77,1.26],["-2",17.88,.88],["0",12.6,.89]];
const kefBlackLabels=[["297",1.75,3.09,0],["295",18.8,2.73,-3],["293",6.46,2.37,0],["291",6.46,2.15,0],["289",16.46,1.85,0],["287",5.45,1.52,20]];
const kefU=[
[-3.5,-3.3,-3.3,-3.3,-2.5,-1.5,-2.3,-2,-2,-1.7,-1.7,-1.3,-.3,-.3,-.3,-.3],
[-3.3,-3.3,-3.3,-3.3,-3,-2,-1.5,-1.3,-1.7,-2,-2.3,-2.3,-1.7,-1.3,-1.8,-1.8,-1.8],
[-3.3,-3.3,-3.3,-3.3,-3.3,-1.5,-1,-2,-2,-2.3,-2.2,-2,-2.2,-2.3,-3,-3.3,-3.3],
[-3.3,-3.3,-3.3,-3,-3,-1.5,-.5,-2.3,-2,-1.9,-1.9,-2.1,-2,-3,-3.7,-3.9,-3.9],
[-3.3,-3.7,-3.7,-3,-3,-1.2,-1.3,-1.3,-1.2,-2.3,-3.3,-3.8,-4.5,-4.7,-4.7,-3.9],
[-3.3,-3.3,-3,-2.8,-2,-1,-1,-1.3,-2.3,-4,-5,-5.2,-5,-4.9,-4.5],
[-3.3,-3.3,-2.5,-1.5,-1.5,-1,-3.3,-4,-4.7,-5.3,-5.3,-5.3,-5.2,-3.1],
[-3.7,-3.7,-3.7,-3.7,-3.3,-2.8,-2.3,-2.3,-4.3,-4.7,-4.8,-5.3,-5.3,-5.3],
[-3.3,-3.3,-3.3,-3.3,-2.8,-2.3,-1.9,-2.8,-2.8,-2.8,-3,-3,-3,-3],
[-3.3,-3.3,-3.3,-3.3,-2.8,-1.4,-1.4,-2.8,-3.3,-3.3,-3.7,-3.7,-3.7,-1.9],
[-3,-3,-3,-3,-2.8,-1.4,-1,-1.9,-2.8,-3.3,-3.5,-3.3,-3.3,-3,-2.7],
[-3.3,-3.3,-3.3,-3,-1.9,-1.4,-1.4,-1.4,-3.3,-3.3,-3.3,-3.3,-3.3,-3.3,-3.3,-2],
[-2.8,-2.8,-2.8,-2.8,-1.4,-1.4,-.9,-3.3,-3.3,-3.3,-3.3,-3.3,-3.3,-3.3,-3.3,-1.9],
[-3.3,-3.3,-2.8,-3.3,-1.9,-1.4,-1.4,-2.3,-3.3,-3.3,-3.3,-3.3,-3.3,-3.3,-3.3,-3],
[-3.3,-3.3,-2.8,-2.3,-1.4,-.5,-.9,-1.9,-3.3,-3.3,-3.3,-3.3,-3.3,-3.3,-2.8,-2],
[-3.7,-3.5,-3.3,-2.8,-2.3,-1,-.4,-.9,-2.3,-3.3,-3.3,-3.3,-3.3,-3.3,-3.3,-3],
[-3.3,-3.3,-3.3,-1.4,-.7,-.7,-1.2,-1.9,-2.2,-3.3,-3.3,-3.3,-3.3,-3.3,-3.3]];
const kefW=[
[-.3,-1.2,-1.9,-1.2,0,1,4,4.3,4.3,3.3,1.7,.3,0,0,0,0],
[-.5,-.8,-.7,-.5,-.2,.5,.5,1.7,5,6,6.3,6,4.3,2.7,3.3,2,1],
[-.5,-.5,-.5,-.5,0,-.5,0,-.5,-3.3,-5.2,-5.5,-5,-4.1,-3.3,-2.3,-1.9,-.7],
[-.5,-.2,-.5,-.8,-.5,-1,-.3,.3,1,2.3,2.3,1.7,.5,-1.1,-2.1,-2,-2],
[1,1,.2,0,.5,.8,-.3,-.2,.5,-2,-5.3,-7.7,-9.3,-9.3,-8.7,-6.3],
[1.8,1.2,1.2,2,2,1.5,.7,-.3,-5,-9,-12.7,-15,-15.3,-14.7,-14],
[.5,1,1.5,1.5,1,0,-4.7,-7.7,-10.3,-12,-12.3,-12,-11.3,-5.7],
[.3,.1,0,.4,-.4,-1.4,-1.4,-3.2,-4.7,-3.7,-3.2,-2.7,-1.9,-1.3],
[0,-.2,-.5,-1.4,-1.4,-2.3,-1.4,0,0,.2,0,.3,.6,.9],
[1.2,1.4,1.1,.9,.5,.9,1.4,3.7,3.7,4.2,4.6,5,6,4.6],
[1.2,1.4,1.4,1.4,.9,.5,.5,1.9,3.7,4.6,5.5,6,6.3,5.5,4.5],
[.5,.5,.9,0,-.5,-.5,-.5,0,2.3,2.3,3.3,2.8,2.3,2,2,1.5],
[-.9,-.5,-.9,-.9,-.9,-.5,-.5,.5,1.4,1.4,1.9,2.3,1.9,1.9,1.9,2.3],
[-.9,-.5,-.9,-1.4,-1.4,-1.1,-.9,.9,2.3,2.8,2.8,2.3,2.8,2.3,2.8,2.8],
[1.1,.9,.9,0,.3,.2,.9,1.9,2.3,2.3,1.9,2.3,2.3,2.8,2.3,2],
[-.9,-.7,-.5,0,0,.3,.3,.5,0,.9,.5,.5,0,0,0,-.5],
[-1.4,-.7,-.9,-.9,-1.9,-1.9,-1.9,-1.4,-.7,0,.5,.5,1.4,1.9,2.3]];

// ---- layout
const panels=[
{id:'no',name:'NO',left:43,top:39.5,barW:38,fills:noFills,iso:noIsentropes,out:noOutflow,inn:noInflow,white:noWhiteLabels,black:noBlackLabels,u:noU,w:noW,box:[64,66,131,77],txt:[72,127,65],sizeCol:99,ylabel:false},
{id:'all',name:'ALL',left:1203.5,top:39.5,barW:41,fills:allFills,iso:allIsentropes,out:allOutflow,inn:allInflow,white:allWhiteLabels,black:allBlackLabels,u:allU,w:allW,box:[1235,62,164,87],txt:[1243,133,67],sizeCol:9,ylabel:true},
{id:'kef',name:'KEF',left:43,top:950.4,barW:38,fills:kefFills,iso:kefIsentropes,out:kefOutflow,inn:kefInflow,white:kefWhiteLabels,black:kefBlackLabels,u:kefU,w:kefW,box:[64,984,157,71],txt:[72,1042,66],sizeCol:8,ylabel:false}];
const panelW=987,panelH=834.5,font='"DejaVu Sans",sans-serif';
const svg=d3.select('#c');
const speedPx=d3.scaleLinear().domain([0,1]).range([0,5]);

function arrowPath(x,y,dx,dy){
  const L=Math.hypot(dx,dy); if(L<.5) return '';
  const ux=dx/L,uy=dy/L,nx=-uy,ny=ux;
  const hl=Math.min(12,Math.max(L,7)),hw=L<7?3.6:4.8,sw=1.25;
  const tx=x-ux*Math.max(L,hl),ty=y-uy*Math.max(L,hl);
  const bx=x-ux*hl,by=y-uy*hl;
  const p=d3.path();
  p.moveTo(x,y);
  p.lineTo(bx+nx*hw,by+ny*hw);
  p.lineTo(bx+nx*sw,by+ny*sw);
  p.lineTo(tx+nx*sw,ty+ny*sw);
  p.lineTo(tx-nx*sw,ty-ny*sw);
  p.lineTo(bx-nx*sw,by-ny*sw);
  p.lineTo(bx-nx*hw,by-ny*hw);
  p.closePath();
  return p.toString();
}

panels.forEach(P=>{
  const x=d3.scaleLinear().domain([0,19.4]).range([P.left,P.left+panelW]);
  const y=d3.scaleLinear().domain([0,3.1]).range([P.top+panelH,P.top]);
  const line=d3.line().x(d=>x(d[0])).y(d=>y(d[1]));
  const g0=svg.append('g');
  svg.append('clipPath').attr('id','clip-'+P.id).append('rect').attr('x',P.left).attr('y',P.top).attr('width',panelW).attr('height',panelH);
  const g=g0.append('g').attr('clip-path','url(#clip-'+P.id+')');
  // filled wind speed bands
  g.selectAll('path.band').data(P.fills).join('path').attr('class','band')
    .attr('d',d=>line(d[1])+'Z').attr('fill',d=>levelColors[d[0]]);
  // orography mask
  g.append('path').attr('d',line([[0,0],...terrain,[19.4,0]])+'Z').attr('fill','#fff');
  // grid
  xTicks.slice(1).forEach(t=>g.append('line').attr('x1',x(t)).attr('x2',x(t)).attr('y1',y(0)).attr('y2',y(3.1)).attr('stroke','#000').attr('stroke-width',1.3).attr('stroke-dasharray','1.5 4.5'));
  yTicks.forEach(t=>g.append('line').attr('x1',x(0)).attr('x2',x(19.4)).attr('y1',y(t)).attr('y2',y(t)).attr('stroke','#000').attr('stroke-width',1.3).attr('stroke-dasharray','1.5 4.5'));
  // flow through the section
  g.selectAll('path.inn').data(P.inn).join('path').attr('class','inn').attr('d',line).attr('fill','none').attr('stroke','#8c8c8c').attr('stroke-width',2).attr('stroke-dasharray','13 9');
  g.selectAll('path.out').data(P.out).join('path').attr('class','out').attr('d',line).attr('fill','none').attr('stroke','#858585').attr('stroke-width',2);
  // isentropes
  g.selectAll('path.iso').data(P.iso).join('path').attr('class','iso').attr('d',line).attr('fill','none').attr('stroke','#111').attr('stroke-width',2.4);
  // wind vectors, anchored at the tip
  const pts=[];
  arrowCols.forEach((cx,i)=>arrowLevels[i].forEach((h,j)=>{
    const u=P.u[i][j],w=P.w[i][j]; if(u===undefined||w===undefined) return;
    const gain=(i>=P.sizeCol||h>1.45)?1.45:1;
    const dx=speedPx(u*gain),dy=-speedPx(w*gain);
    pts.push(arrowPath(x(cx),y(h),dx,dy));
  }));
  g.selectAll('path.arrow').data(pts).join('path').attr('class','arrow').attr('d',d=>d).attr('fill','#000');
  // orography line
  g.append('path').attr('d',line(terrain)).attr('fill','none').attr('stroke','#000').attr('stroke-width',5.5);
  // contour labels
  g.selectAll('text.wl').data(P.white).join('text').attr('class','wl').text(d=>d[0])
    .attr('x',d=>x(d[1])).attr('y',d=>y(d[2])+11).attr('text-anchor','middle').attr('fill','#fff').attr('font-family',font).attr('font-size',29);
  g.selectAll('text.bl').data(P.black).join('text').attr('class','bl').text(d=>d[0])
    .attr('transform',d=>`translate(${x(d[1])},${y(d[2])+11}) rotate(${d[3]})`).attr('text-anchor','middle').attr('fill','#111').attr('font-family',font).attr('font-size',29);
  // frame
  g0.append('rect').attr('x',P.left).attr('y',P.top).attr('width',panelW).attr('height',panelH).attr('fill','none').attr('stroke','#222').attr('stroke-width',1.6);
  // ticks
  xTicks.forEach(t=>g0.append('text').text(t).attr('x',x(t)).attr('y',y(0)+28).attr('text-anchor','middle').attr('font-family',font).attr('font-size',23).attr('fill','#111'));
  yTicks.forEach(t=>g0.append('text').text(t.toFixed(1)).attr('x',P.left-8).attr('y',y(t)+8).attr('text-anchor','end').attr('font-family',font).attr('font-size',23).attr('fill','#111'));
  [['S',x(0)+30],['N',x(0)+940]].forEach(d=>g0.append('text').text(d[0]).attr('x',d[1]).attr('y',y(0)+44).attr('font-family',font).attr('font-size',27).attr('fill','#111'));
  const ms=g0.append('text').attr('x',P.left+987).attr('y',y(0)+44).attr('font-family',font).attr('font-size',27).attr('fill','#111');
  ms.append('tspan').text('ms');
  ms.append('tspan').text('−1').attr('font-size',17).attr('dy',-11);
  g0.append('text').text('Distance [km]').attr('x',P.left+494).attr('y',y(0)+64).attr('text-anchor','middle').attr('font-family',font).attr('font-size',28).attr('fill','#111');
  if(P.ylabel) g0.append('text').text('Height [km]').attr('transform',`translate(${P.left-61},${P.top+417}) rotate(-90)`).attr('text-anchor','middle').attr('font-family',font).attr('font-size',27).attr('fill','#111');
  // name box
  g0.append('rect').attr('x',P.box[0]).attr('y',P.box[1]).attr('width',P.box[2]).attr('height',P.box[3]).attr('fill','#fff').attr('fill-opacity',.5);
  g0.append('text').text(P.name).attr('x',P.txt[0]).attr('y',P.txt[1]).attr('font-family',font).attr('font-weight','bold').attr('font-size',P.txt[2]).attr('fill','#000');
  // colour bar
  const bx=P.left+panelW+11;
  const cb=d3.scaleLinear().domain([0,14]).range([P.top+panelH,P.top+39.5]);
  d3.pairs(cbTicks).forEach((p,i)=>g0.append('rect').attr('x',bx).attr('y',cb(p[1])).attr('width',P.barW).attr('height',cb(p[0])-cb(p[1])).attr('fill',levelColors[i]));
  g0.append('path').attr('d',`M${bx},${cb(14)}L${bx+P.barW/2},${P.top}L${bx+P.barW},${cb(14)}Z`).attr('fill','#000');
  g0.append('rect').attr('x',bx).attr('y',cb(14)).attr('width',P.barW).attr('height',cb(0)-cb(14)).attr('fill','none').attr('stroke','#111').attr('stroke-width',1.5);
  cbTicks.forEach(t=>{
    g0.append('text').text(t).attr('x',bx+P.barW+7).attr('y',cb(t)+8).attr('font-family',font).attr('font-size',22).attr('fill','#111');
    g0.append('line').attr('x1',bx+P.barW-4).attr('x2',bx+P.barW).attr('y1',cb(t)).attr('y2',cb(t)).attr('stroke','#111');
  });
});

// ---- caption, justified like the source
const capY=d3.scaleLinear().domain([0,9]).range([1039,1575]);
caption.forEach((s,i)=>{
  const t=svg.append('text').text(s).attr('x',1194).attr('y',capY(i)).attr('font-family','"Liberation Serif",serif').attr('font-size',53.5).attr('fill','#000');
  if(i<caption.length-1){
    const w=t.node().getComputedTextLength(),n=s.split(' ').length-1;
    t.attr('word-spacing',(972-w)/n);
  }
});
</script></body></html>
